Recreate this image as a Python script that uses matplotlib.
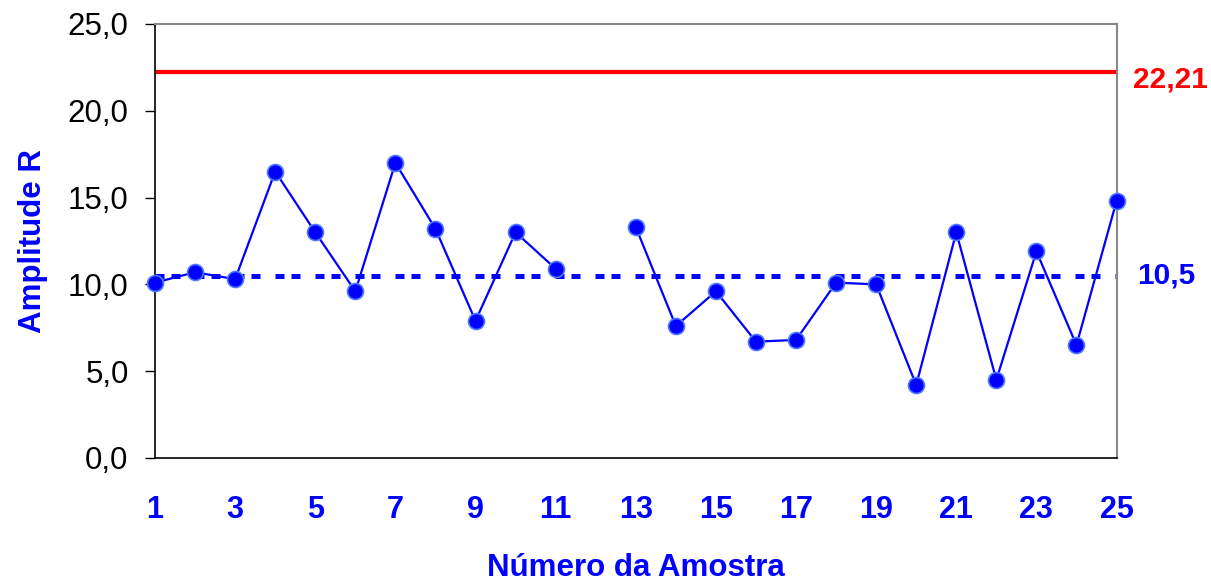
import numpy as np
import matplotlib
matplotlib.use("Agg")
import matplotlib.pyplot as plt

plt.rcParams['font.family'] = ['Liberation Sans', 'DejaVu Sans']

# sample number and range R (sample 12 has no value)
amostra = list(range(1, 26))
amplitude = [10.1, 10.7, 10.3, 16.5, 13.0, 9.6, 17.0, 13.2, 7.9, 13.0,
             10.9, np.nan, 13.3, 7.6, 9.6, 6.7, 6.8, 10.1, 10.0, 4.2,
             13.0, 4.5, 11.9, 6.5, 14.8]
lsc = 22.21
lc = 10.5
lsc_label = "22,21"
lc_label = "10,5"
y_ticks = [0, 5, 10, 15, 20, 25]
x_labels = list(range(1, 26, 2))
x_marks = list(range(1, 26, 4))

fig = plt.figure(figsize=(12.11, 5.82), dpi=100)
ax = fig.add_axes([0.128, 0.2131, 0.922 - 0.128, 0.9588 - 0.2131])

ax.plot([1, 25], [lsc, lsc], color="#ff0000", lw=3, solid_capstyle="butt", zorder=2)
ax.plot([1, 25], [lc, lc], color="#0000ff", lw=3.6,
        linestyle=(0, (1.8, 1.4, 1.8, 3.0)), dash_capstyle="butt", zorder=2)
ax.plot(amostra, amplitude, color="#0000ff", lw=1.6, marker="o", markersize=11.5,
        markerfacecolor="#0000ff", markeredgecolor="#4d79ff", markeredgewidth=1.2,
        clip_on=False, zorder=3)

ax.set_xlim(1, 25)
ax.set_ylim(0, 25)

ax.set_yticks(y_ticks)
ax.set_yticklabels([f"{v:.1f}".replace(".", ",") for v in y_ticks])
ax.tick_params(axis="y", direction="out", length=7, width=1, pad=12,
               labelsize=22.5, labelcolor="black")

ax.set_xticks(x_labels)
ax.set_xticklabels([str(v) for v in x_labels], fontweight="bold")
ax.tick_params(axis="x", which="major", length=0, pad=27, labelsize=22,
               labelcolor="#0000ff")
ax.set_xticks(x_marks, minor=True)
ax.tick_params(axis="x", which="minor", direction="inout", length=14, width=1)

for side in ("left", "bottom"):
    ax.spines[side].set_color("black")
    ax.spines[side].set_linewidth(1.2)
for side in ("top", "right"):
    ax.spines[side].set_color("#888888")
    ax.spines[side].set_linewidth(1.5)

ax.set_xlabel("Número da Amostra", fontsize=22.5, fontweight="bold",
              color="#0000ff", labelpad=20)
ax.set_ylabel("Amplitude R", fontsize=22.5, fontweight="bold",
              color="#0000ff", labelpad=14.5)

ax.annotate(lsc_label, xy=(25, lsc), xytext=(12, -5), textcoords="offset points",
            ha="left", va="center", fontsize=21.5, fontweight="bold",
            color="#ff0000", annotation_clip=False)
ax.annotate(lc_label, xy=(25, lc), xytext=(15, 0), textcoords="offset points",
            ha="left", va="center", fontsize=21.5, fontweight="bold",
            color="#0000ff", annotation_clip=False)

fig.savefig("out.png", dpi=100)
